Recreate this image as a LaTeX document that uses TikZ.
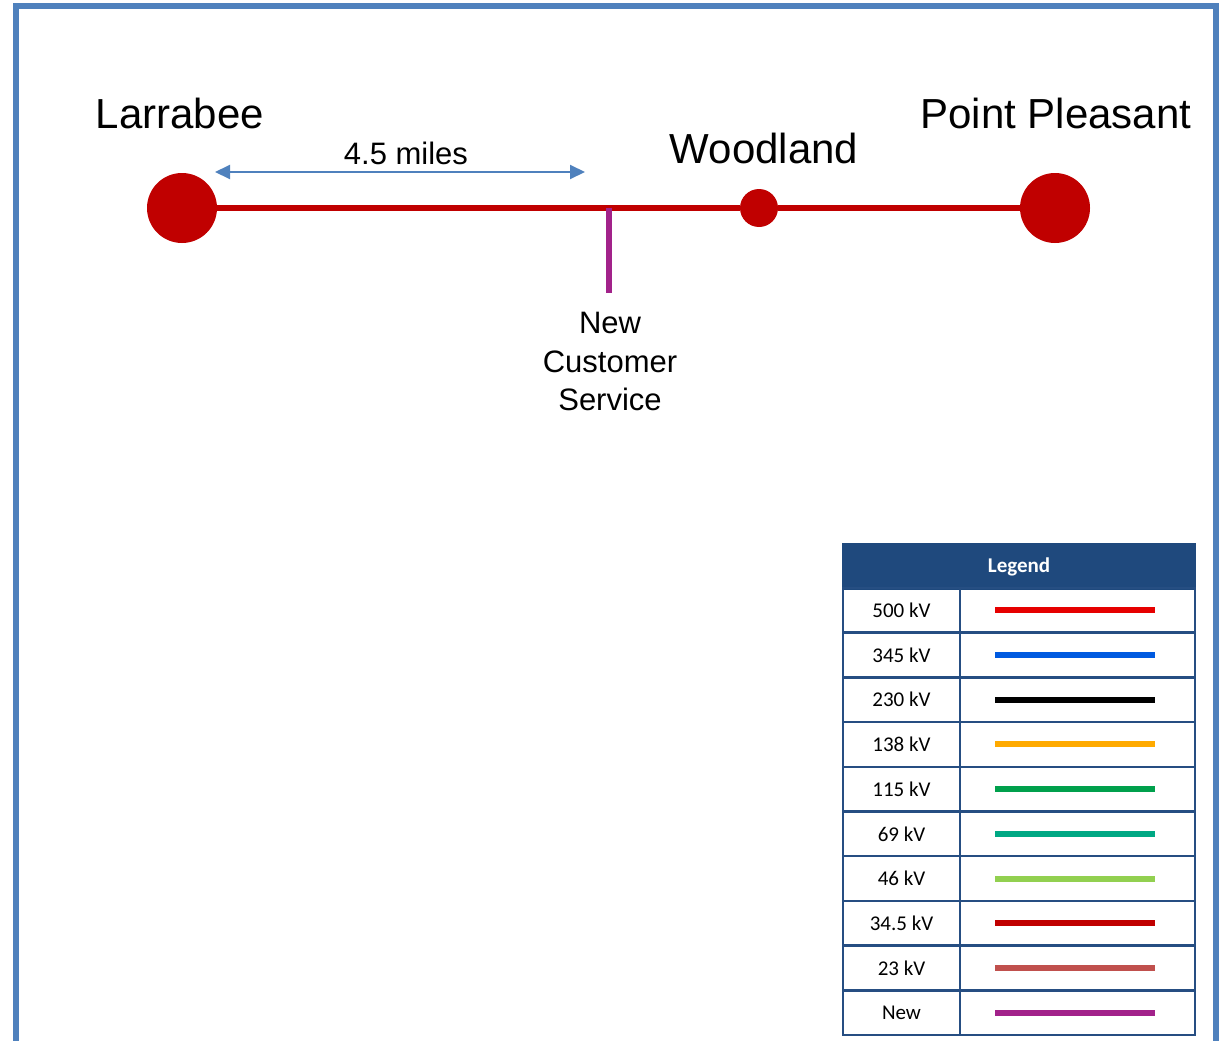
\documentclass[tikz,border=0pt]{standalone}
\usepackage{fontspec}
\setmainfont{Liberation Sans}
\newfontfamily\calibri{Carlito}
\usetikzlibrary{arrows.meta}
\definecolor{frameblue}{HTML}{4F81BD}
\definecolor{linered}{HTML}{C00000}
\definecolor{newpurple}{HTML}{A2228A}
\definecolor{legblue}{HTML}{1F497D}
\definecolor{gridblue}{HTML}{264E82}
\definecolor{arrowblue}{HTML}{4F81BD}
\definecolor{cfive}{HTML}{E60000}
\definecolor{cthreefour}{HTML}{005AE0}
\definecolor{ctwothree}{HTML}{000000}
\definecolor{conethree}{HTML}{FFAA00}
\definecolor{coneone}{HTML}{00A04C}
\definecolor{csixnine}{HTML}{00A884}
\definecolor{cfoursix}{HTML}{92D050}
\definecolor{cthirtyfour}{HTML}{C00000}
\definecolor{ctwentythree}{HTML}{C0504D}
\definecolor{cnew}{HTML}{A2228A}
\begin{document}
\begin{tikzpicture}[x=1pt,y=-1pt,
  bigsub/.style={circle, fill=linered, inner sep=0pt, minimum size=70pt},
  smallsub/.style={circle, fill=linered, inner sep=0pt, minimum size=38pt},
  bigtext/.style={font=\fontsize{42}{50}\selectfont, inner sep=0pt, anchor=base},
  midtext/.style={font=\fontsize{31}{38.5}\selectfont, inner sep=0pt},
  redline/.style={draw=linered, line width=6pt},
  newline/.style={draw=newpurple, line width=6pt},
  dimarrow/.style={draw=arrowblue, line width=2pt, {Triangle[length=15pt,width=14pt]}-{Triangle[length=15pt,width=14pt]}},
  legcell/.style={draw=gridblue, line width=2.5pt, minimum height=44.7pt, inner sep=0pt, font=\calibri\fontsize{21}{25}\selectfont},
  leghead/.style={draw=legblue, fill=legblue, line width=2.5pt, minimum width=352pt, minimum height=45pt, inner sep=0pt, text=white, font=\calibri\bfseries\fontsize{21}{25}\selectfont}
]
\clip (0,0) rectangle (1223,1041);
% frame
\draw[frameblue, line width=6pt] (16,1070) -- (16,6) -- (1216,6) -- (1216,1070);

% substations
\node[bigsub] (lar) at (182,208) {};
\node[smallsub] (wood) at (759,208) {};
\node[bigsub] (pp) at (1055,208) {};
\coordinate (tap) at (609,208);
\coordinate (newend) at (609,293);

\path[redline] (lar) -- (wood);
\path[redline] (wood) -- (pp);
\path[newline] (tap) -- (newend);

% labels
\node[bigtext] (larlab) at (180,128) {Larrabee};
\node[bigtext] (woodlab) at (764,163) {Woodland};
\node[bigtext] (pplab) at (1056,128) {Point Pleasant};
\node[midtext, anchor=base] (dist) at (406,164) {4.5 miles};
\node[midtext, align=center, anchor=north] (cust) at (610,312) {New\\Customer\\Service};

% dimension arrow
\coordinate (da) at (215,172);
\coordinate (db) at (585,172);
\path[dimarrow] (da) -- (db);

% legend
\node[leghead] (head) at (1019,566.5) {Legend};
\foreach \lab/\col [count=\i from 0] in {500 kV/cfive, 345 kV/cthreefour, 230 kV/ctwothree, 138 kV/conethree, 115 kV/coneone, 69 kV/csixnine, 46 kV/cfoursix, 34.5 kV/cthirtyfour, 23 kV/ctwentythree, New/cnew}{
  \pgfmathsetmacro{\yc}{588+44.7*\i+22.35}
  \node[legcell, minimum width=117pt] (lab\i) at (901.5,\yc) {\lab};
  \node[legcell, minimum width=235pt] (sw\i) at (1077.5,\yc) {};
  \draw[draw=\col, line width=6pt] ([xshift=-82.5pt]sw\i.center) -- ([xshift=77.5pt]sw\i.center);
}
\end{tikzpicture}
\end{document}
